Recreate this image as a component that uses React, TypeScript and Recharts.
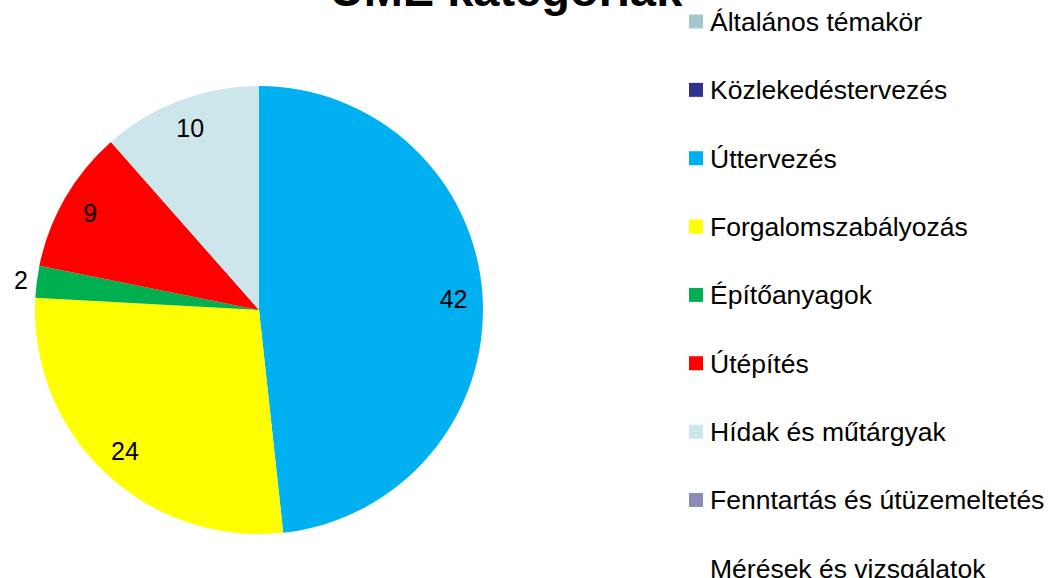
import React from 'react';
import { PieChart, Pie, Cell, Legend } from 'recharts';

const categories = [
  'Általános témakör',
  'Közlekedéstervezés',
  'Úttervezés',
  'Forgalomszabályozás',
  'Építőanyagok',
  'Útépítés',
  'Hídak és műtárgyak',
  'Fenntartás és útüzemeltetés',
  'Mérések és vizsgálatok',
];
const values = [0, 0, 42, 24, 2, 9, 10, 0, 0];
const colors = [
  '#A5C8CC',
  '#2E3192',
  '#00B0F0',
  '#FFFF00',
  '#00B050',
  '#FF0000',
  '#CDE6EB',
  '#8B8BB8',
  '#FFFFFF',
];
const title = 'ÚME kategóriák';

const data = categories.map((name, i) => ({ name, value: values[i] }));

const FONT = '"Liberation Sans", Arial, sans-serif';
const RAD = Math.PI / 180;

const renderLabel = (props: any) => {
  const { cx, cy, midAngle, outerRadius, value, percent } = props;
  if (!value) return null;
  const r = percent < 0.05 ? outerRadius + 16 : outerRadius * 0.87;
  const x = cx + r * Math.cos(-midAngle * RAD);
  const y = cy + r * Math.sin(-midAngle * RAD);
  return (
    <text
      x={x}
      y={y}
      textAnchor="middle"
      dominantBaseline="central"
      fill="#000"
      fontSize={25}
      fontFamily={FONT}
    >
      {value}
    </text>
  );
};

const renderLegend = () => (
  <svg width={381} height={578} style={{ display: 'block' }}>
    {categories.map((name, i) => {
      const cyRow = 21.5 + i * 68.35;
      return (
        <g key={name}>
          <rect x={9} y={cyRow - 7} width={14} height={14} fill={colors[i]} />
          <text
            x={30}
            y={cyRow + 9.5}
            fontSize={26.5}
            fontFamily={FONT}
            fill="#000"
          >
            {name}
          </text>
        </g>
      );
    })}
  </svg>
);

export default function App() {
  return (
    <div style={{ position: 'absolute', left: 0, top: 0, width: 1061, height: 578, background: '#fff' }}>
      <PieChart width={1061} height={578} margin={{ top: 0, right: 0, bottom: 0, left: 0 }}>
        <Pie
          data={data}
          dataKey="value"
          nameKey="name"
          cx={259}
          cy={310}
          outerRadius={224}
          startAngle={90}
          endAngle={-270}
          stroke="none"
          labelLine={false}
          label={renderLabel}
          isAnimationActive={false}
        >
          {data.map((d, i) => (
            <Cell key={d.name} fill={colors[i]} />
          ))}
        </Pie>
        <Legend
          layout="vertical"
          align="right"
          verticalAlign="top"
          content={renderLegend}
          wrapperStyle={{ position: 'absolute', left: 680, top: 0, width: 381, height: 578 }}
        />
      </PieChart>
      <svg
        width={1061}
        height={578}
        style={{ position: 'absolute', left: 0, top: 0, pointerEvents: 'none' }}
      >
        <text
          x={506}
          y={6}
          textAnchor="middle"
          fontSize={47}
          fontWeight="bold"
          fontFamily={FONT}
          fill="#000"
        >
          {title}
        </text>
      </svg>
    </div>
  );
}
